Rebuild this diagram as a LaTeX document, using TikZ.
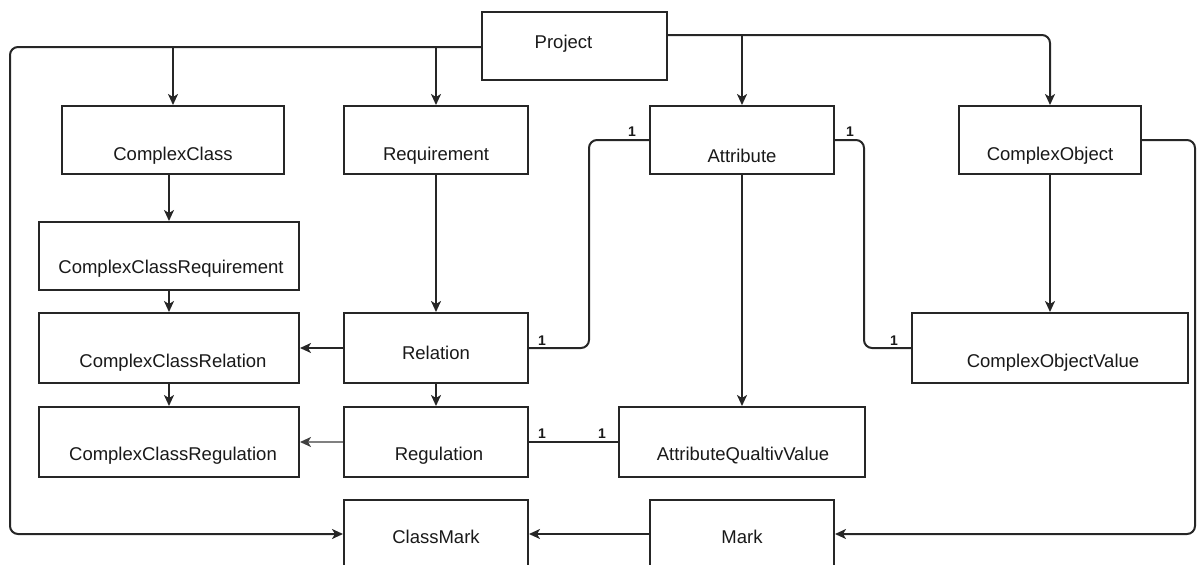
\documentclass[tikz,border=0pt]{standalone}
\usepackage{fontspec}
\setmainfont{Liberation Sans}
\usetikzlibrary{arrows.meta,calc}
\begin{document}
\begin{tikzpicture}[x=1pt,y=-1pt,
  box/.style={draw=black!85, line width=2pt, inner sep=0pt, rectangle, fill=white},
  txt/.style={font=\fontsize{18.5}{20}\selectfont, text=black!90, inner sep=0pt},
  conn/.style={draw=black!85, line width=2pt, rounded corners=8pt},
  arr/.style={conn, -{Stealth[length=11pt,width=10pt,inset=3pt]}},
  grayarr/.style={draw=black!50, line width=2pt, -{Stealth[length=11pt,width=10pt,inset=3pt,color=black!75]}},
  one/.style={font=\bfseries\fontsize{14}{15}\selectfont, text=black!90, inner sep=0pt}]
\useasboundingbox (0,0) rectangle (1197,565);

% entities
\node[box, minimum width=185pt, minimum height=68pt, label={[txt,xshift=-11pt,yshift=2pt]center:Project}] (proj) at (574.5,46) {};
\node[box, minimum width=222pt, minimum height=68pt, label={[txt,yshift=-16pt]center:ComplexClass}] (cc) at (173,140) {};
\node[box, minimum width=184pt, minimum height=68pt, label={[txt,yshift=-16pt]center:Requirement}] (req) at (436,140) {};
\node[box, minimum width=184pt, minimum height=68pt, label={[txt,yshift=-16pt]center:Attribute}] (attr) at (742,140) {};
\node[box, minimum width=182pt, minimum height=68pt, label={[txt,yshift=-16pt]center:ComplexObject}] (cobj) at (1050,140) {};
\node[box, minimum width=260pt, minimum height=68pt, label={[txt,xshift=2pt,yshift=-13pt]center:ComplexClassRequirement}] (ccreq) at (169,256) {};
\node[box, minimum width=260pt, minimum height=70pt, label={[txt,xshift=4pt,yshift=-15pt]center:ComplexClassRelation}] (ccrel) at (169,348) {};
\node[box, minimum width=184pt, minimum height=70pt, label={[txt,yshift=-5pt]center:Relation}] (rel) at (436,348) {};
\node[box, minimum width=260pt, minimum height=70pt, label={[txt,xshift=4pt,yshift=-14pt]center:ComplexClassRegulation}] (ccreg) at (169,442) {};
\node[box, minimum width=184pt, minimum height=70pt, label={[txt,xshift=3pt,yshift=-14pt]center:Regulation}] (reg) at (436,442) {};
\node[box, minimum width=246pt, minimum height=70pt, label={[txt,xshift=1pt,yshift=-14pt]center:AttributeQualtivValue}] (aqv) at (742,442) {};
\node[box, minimum width=276pt, minimum height=70pt, label={[txt,xshift=3pt,yshift=-15pt]center:ComplexObjectValue}] (cov) at (1050,348) {};
\node[box, minimum width=184pt, minimum height=68pt, label={[txt,yshift=-3pt]center:ClassMark}] (cm) at (436,534) {};
\node[box, minimum width=184pt, minimum height=68pt, label={[txt,yshift=-3pt]center:Mark}] (mark) at (742,534) {};

% routing points
\coordinate (lt) at (10,47);
\coordinate (lb) at (10,534);
\coordinate (tr) at (1050,35);
\coordinate (al1) at (589,140);
\coordinate (al2) at (589,348);
\coordinate (ar1) at (864,140);
\coordinate (ar2) at (864,348);
\coordinate (rt) at (1195,140);
\coordinate (rb) at (1195,534);

% Project connectors
\draw[arr] ([yshift=-1pt]proj.west) -- (lt) -- (lb) -- (cm.west);
\draw[arr] (cc.north |- lt) -- (cc.north);
\draw[arr] (req.north |- lt) -- (req.north);
\draw[arr] ([yshift=11pt]proj.east) -- (tr) -- (cobj.north);
\draw[arr] (attr.north |- tr) -- (attr.north);

% left column
\draw[arr] (cc.south -| ccreq.north) -- (ccreq.north);
\draw[arr] (ccreq.south) -- (ccrel.north);
\draw[arr] (ccrel.south) -- (ccreg.north);

% middle column
\draw[arr] (req.south) -- (rel.north);
\draw[arr] (rel.south) -- (reg.north);
\draw[arr] (rel.west) -- (ccrel.east);
\draw[grayarr] (reg.west) -- (ccreg.east);
\draw[conn] (reg.east) node[one, anchor=south west, xshift=8pt, yshift=3pt] {1}
  -- (aqv.west) node[one, anchor=south east, xshift=-11pt, yshift=3pt] {1};

% attribute associations
\draw[conn] (attr.west) node[one, anchor=south east, xshift=-12pt, yshift=3pt] {1}
  -- (al1) -- (al2) -- (rel.east) node[one, anchor=south west, xshift=8pt, yshift=2pt] {1};
\draw[conn] (attr.east) node[one, anchor=south west, xshift=10pt, yshift=3pt] {1}
  -- (ar1) -- (ar2) -- (cov.west) node[one, anchor=south east, xshift=-12pt, yshift=2pt] {1};
\draw[arr] (attr.south) -- (aqv.north);
\draw[arr] (cobj.south) -- (cov.north);

% marks
\draw[arr] (cobj.east) -- (rt) -- (rb) -- (mark.east);
\draw[arr] (mark.west) -- (cm.east);
\end{tikzpicture}
\end{document}
